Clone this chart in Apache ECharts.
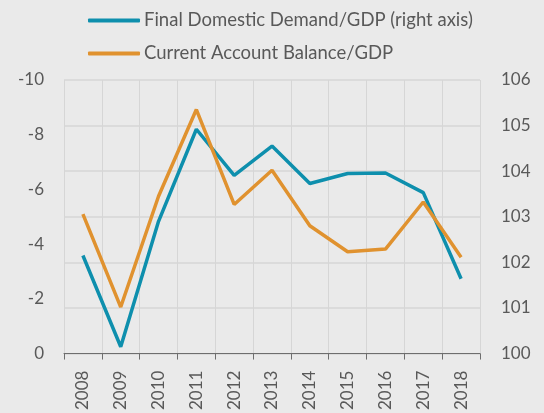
<!DOCTYPE html>
<html lang="en">
<head>
    <meta charset="UTF-8">
    <title>ECharts</title>
    <style>
        html, body { margin: 0; padding: 0; background: #eaeaea; }
        #main { width: 544px; height: 413px; }
    </style>
</head>
<body>
    <div id="main"></div>
    <script src="https://cdn.jsdelivr.net/npm/echarts@6/dist/echarts.min.js"></script>
    <script>
        // data
        var years = ['2008', '2009', '2010', '2011', '2012', '2013', '2014', '2015', '2016', '2017', '2018'];
        var domesticDemand = [102.15, 100.15, 102.9, 104.92, 103.91, 104.55, 103.73, 103.95, 103.96, 103.53, 101.64];
        var currentAccount = [-5.1, -1.7, -5.75, -8.92, -5.45, -6.7, -4.67, -3.72, -3.82, -5.54, -3.52];

        var textColor = '#595959';
        var font = 'Lato';

        var chart = echarts.init(document.getElementById('main'));
        var option = {
            backgroundColor: '#eaeaea',
            textStyle: { fontFamily: font },
            legend: {
                orient: 'vertical',
                left: 88,
                top: 11,
                padding: 0,
                itemWidth: 52,
                itemHeight: 4,
                itemGap: 14,
                icon: 'roundRect',
                textStyle: { color: textColor, fontSize: 18.5, fontFamily: font, padding: [0, 0, 0, -1] },
                data: ['Final Domestic Demand/GDP (right axis)', 'Current Account Balance/GDP']
            },
            grid: { left: 64, right: 64, top: 80, bottom: 58 },
            xAxis: {
                type: 'category',
                data: years,
                boundaryGap: true,
                axisLine: { lineStyle: { color: '#6e6e6e', width: 1 } },
                axisTick: { show: true, length: 6, lineStyle: { color: '#6e6e6e' } },
                axisLabel: { rotate: 90, color: textColor, fontSize: 17, margin: 17, fontFamily: font },
                splitLine: { show: true, lineStyle: { color: '#d6d6d6', width: 1 } }
            },
            yAxis: [
                {
                    type: 'value',
                    min: -10,
                    max: 0,
                    interval: 2,
                    inverse: true,
                    position: 'left',
                    axisLine: { show: false },
                    axisTick: { show: false },
                    splitLine: { show: false },
                    axisLabel: { color: textColor, fontSize: 17, margin: 20, fontFamily: font }
                },
                {
                    type: 'value',
                    min: 100,
                    max: 106,
                    interval: 1,
                    position: 'right',
                    axisLine: { show: false },
                    axisTick: { show: false },
                    splitLine: { show: true, lineStyle: { color: '#d6d6d6', width: 1.5 } },
                    axisLabel: { color: textColor, fontSize: 17, margin: 21, fontFamily: font }
                }
            ],
            series: [
                {
                    name: 'Final Domestic Demand/GDP (right axis)',
                    type: 'line',
                    yAxisIndex: 1,
                    data: domesticDemand,
                    symbol: 'none',
                    lineStyle: { color: '#0e8fad', width: 3.5 },
                    itemStyle: { color: '#0e8fad' },
                    z: 2
                },
                {
                    name: 'Current Account Balance/GDP',
                    type: 'line',
                    yAxisIndex: 0,
                    data: currentAccount,
                    symbol: 'none',
                    lineStyle: { color: '#e0922f', width: 3.5 },
                    itemStyle: { color: '#e0922f' },
                    z: 3
                }
            ]
        };
        option && chart.setOption(option);
    </script>
</body>
</html>
